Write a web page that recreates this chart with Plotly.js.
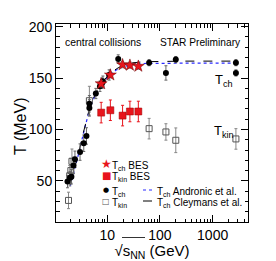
<!DOCTYPE html>
<html><head><meta charset="utf-8">
<script src="https://cdn.plot.ly/plotly-3.0.1.min.js"></script>
<style>html,body{margin:0;padding:0;background:#fff;}#c{width:276px;height:261px;}</style>
</head><body><div id="c"></div>
<script>
// Tch (compilation, filled circles)
const tchX = [1.77, 1.97, 2.1, 2.3, 2.45, 3.06, 3.6, 4.05, 4.6, 4.6, 6.1, 7.3, 8.0, 8.3, 10.9, 16.2, 62.4, 130, 200, 2760, 2760];
const tchY = [49.3, 53, 54, 65, 71, 78, 86.6, 93.7, 121, 125, 135, 142, 145, 147, 153, 168.6, 165, 155, 168, 165, 155];
const tchE = [6, 6, 7, 8, 8, 8, 8, 8, 8, 8, 5, 5, 5, 5, 5, 4, 3, 7, 3, 3, 3];
// Tkin (compilation, open squares)
const tkinX = [1.85, 1.95, 2.05, 2.15, 4.6, 62.4, 130, 200, 2760];
const tkinY = [31, 55, 60, 69, 128, 100.8, 97.6, 89.5, 90.8];
const tkinE = [8, 10, 12, 12, 14, 10, 8, 12, 10];
// BES
const besX = [7.7, 11.5, 19.6, 27, 39];
const besTch = [144.5, 153, 163, 162.5, 161.5];
const besTchE = [3, 3, 3, 3, 3];
const besTkin = [116.4, 118.7, 113.5, 117.5, 117.5];
const besTkinE = [10, 10, 10, 10, 10];
// model curves
const curveX = [2.0, 2.5, 3.0, 3.5, 4.0, 4.5, 5, 6, 7, 8, 10, 12, 15, 20, 30, 50, 100, 300, 1000, 2760];
const andronicY = [45, 63, 80, 95, 107, 117, 124, 134, 140.5, 144.5, 150.5, 154.5, 158, 161, 163.3, 164.2, 164.5, 164.5, 164.5, 164.5];
const cleymansY = [46, 64, 81, 96, 108, 118, 125, 135, 141.5, 145.5, 151.5, 155.5, 159, 162.5, 164.8, 165.9, 166.3, 166.5, 166.5, 166.5];
// legend labels
const legendLabels = ['T<sub>ch</sub> BES', 'T<sub>kin</sub> BES', 'T<sub>ch</sub>', 'T<sub>kin</sub>'];
const lineLabels = ['T<sub>ch</sub> Andronic et al.', 'T<sub>ch</sub> Cleymans et al.'];

const FONT = 'Liberation Sans, Arial, sans-serif';
const RED = '#e8141c';
const traces = [
  {x: curveX, y: andronicY, type:'scatter', mode:'lines', name:lineLabels[0],
   line:{color:'#2a2aff', dash:'dot', width:1.2}},
  {x: curveX, y: cleymansY, type:'scatter', mode:'lines', name:lineLabels[1],
   line:{color:'#000', dash:'dash', width:1}},
  {x: tkinX, y: tkinY, type:'scatter', mode:'markers', name:legendLabels[3],
   marker:{symbol:'square-open', size:6, color:'#555', line:{width:1}},
   error_y:{type:'data', array:tkinE, color:'#888', thickness:1, width:1.5}},
  {x: tchX, y: tchY, type:'scatter', mode:'markers', name:legendLabels[2],
   marker:{symbol:'circle', size:6, color:'#000'},
   error_y:{type:'data', array:tchE, color:'#666', thickness:1, width:1.5}},
  {x: besX, y: besTkin, type:'scatter', mode:'markers', name:legendLabels[1],
   marker:{symbol:'square', size:7, color:RED, line:{color:'#900', width:0.5}},
   error_y:{type:'data', array:besTkinE, color:RED, thickness:1, width:1.5}},
  {x: besX, y: besTch, type:'scatter', mode:'markers', name:legendLabels[0],
   marker:{symbol:'star', size:9, color:RED, line:{color:'#600', width:0.5}},
   error_y:{type:'data', array:besTchE, color:'#999', thickness:1, width:1.5}}
];

const minorX = [];
[1, 10, 100, 1000].forEach(d => { for (let k = 2; k <= 9; k++) minorX.push(k * d); });

// legend geometry in paper units (plot area 192x198 px)
const px = v => (v - 56) / 192;
const py = v => (222 - v) / 198;
const rowsY = [164, 175, 190, 201];
const glyphs = [
  {t:'★', c:RED, s:12}, {t:'■', c:RED, s:10}, {t:'●', c:'#000', s:7}, {t:'□', c:'#555', s:8}
];
const ann = [
  {text:'central collisions', x:px(63), y:py(42), xanchor:'left', font:{size:10.4}},
  {text:'STAR Preliminary', x:px(243), y:py(42), xanchor:'right', font:{size:10.2}},
  {text:'T<sub>ch</sub>', x:px(213), y:py(80), xanchor:'left', font:{size:13}},
  {text:'T<sub>kin</sub>', x:px(212), y:py(131), xanchor:'left', font:{size:13}},
  {text:'T (MeV)', x:px(20), y:py(127), xanchor:'center', textangle:-90, font:{size:16}}
];
legendLabels.forEach((t, i) => {
  ann.push({text:glyphs[i].t, x:px(106), y:py(rowsY[i]), xanchor:'center', font:{size:glyphs[i].s, color:glyphs[i].c, family:'DejaVu Sans'}});
  ann.push({text:t, x:px(110), y:py(rowsY[i] + 1.5), xanchor:'left', font:{size:10}});
});
lineLabels.forEach((t, i) => {
  ann.push({text:t, x:px(155), y:py(rowsY[i + 2] + 1.5), xanchor:'left', font:{size:10}});
});
const annotations = ann.map(a => Object.assign({xref:'paper', yref:'paper', yanchor:'middle', showarrow:false},
  a, {font:Object.assign({family:FONT, color:'#000'}, a.font)}));
const shapes = [
  {type:'line', xref:'paper', yref:'paper', x0:px(143), x1:px(154), y0:py(rowsY[2]), y1:py(rowsY[2]), line:{color:'#2a2aff', dash:'dot', width:1.2}},
  {type:'line', xref:'paper', yref:'paper', x0:px(143), x1:px(154), y0:py(rowsY[3]), y1:py(rowsY[3]), line:{color:'#000', dash:'dash', width:1}},
  // overline of the square-root sign in the x title
  {type:'line', xref:'paper', yref:'paper', x0:px(122), x1:px(145), y0:py(237.5), y1:py(237.5), line:{color:'#000', width:0.8}}
];

const layout = {
  width:276, height:261,
  margin:{l:56, r:28, t:24, b:39, autoexpand:false},
  paper_bgcolor:'#fff', plot_bgcolor:'#fff',
  font:{family:FONT, color:'#000'},
  showlegend:false,
  xaxis:{type:'log', range:[0.03, 3.67], autorange:false, tickmode:'array', tickvals:[10,100,1000], ticktext:['10','100','1000'],
    ticks:'inside', ticklen:7, tickcolor:'#000', showline:true, linecolor:'#000', linewidth:1, mirror:'ticks',
    showgrid:false, zeroline:false, tickfont:{size:14, family:FONT}, automargin:false,
    minor:{tickmode:'array', tickvals:minorX, ticks:'inside', ticklen:3.5, tickcolor:'#000', showgrid:false},
    title:{text:'√s<sub>NN</sub> (GeV)', font:{size:15, family:FONT}}},
  yaxis:{range:[10, 202.6], autorange:false, tick0:0, dtick:50, ticks:'inside', ticklen:7, tickcolor:'#000',
    showline:true, linecolor:'#000', linewidth:1, mirror:'ticks', showgrid:false, zeroline:false,
    tickfont:{size:14, family:FONT}, automargin:false,
    minor:{dtick:10, ticks:'inside', ticklen:3.5, tickcolor:'#000', showgrid:false}},
  annotations: annotations,
  shapes: shapes
};
Plotly.newPlot('c', traces, layout, {displayModeBar:false, staticPlot:true});
</script></body></html>
